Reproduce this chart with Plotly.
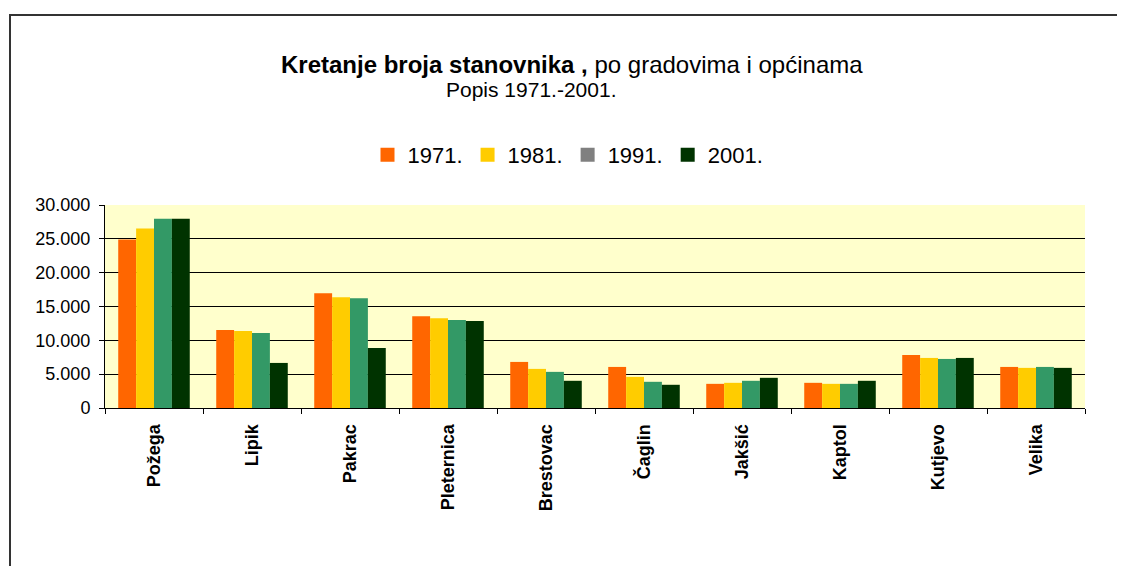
import plotly.graph_objects as go

categories = ["Požega", "Lipik", "Pakrac", "Pleternica", "Brestovac",
              "Čaglin", "Jakšić", "Kaptol", "Kutjevo", "Velika"]
years = ["1971.", "1981.", "1991.", "2001."]
v1971 = [24900, 11520, 16960, 13570, 6810, 6070, 3570, 3720, 7840, 6070]
v1981 = [26520, 11370, 16370, 13280, 5780, 4600, 3720, 3570, 7400, 5930]
v1991 = [27980, 11070, 16220, 12990, 5340, 3870, 4020, 3570, 7250, 6070]
v2001 = [27980, 6660, 8870, 12840, 4020, 3430, 4460, 4020, 7400, 5930]
values = [v1971, v1981, v1991, v2001]
bar_colors = ["#FF6600", "#FFCC00", "#339966", "#003300"]
legend_colors = ["#FF6600", "#FFCC00", "#808080", "#003300"]
y_ticks = [0, 5000, 10000, 15000, 20000, 25000, 30000]

FONT = "Liberation Sans, Arial, sans-serif"

fig = go.Figure()
for i, (yr, vals) in enumerate(zip(years, values)):
    fig.add_trace(go.Bar(x=categories, y=vals, name=yr,
                         marker=dict(color=bar_colors[i], line=dict(width=0)),
                         showlegend=False))
for i, yr in enumerate(years):
    fig.add_trace(go.Scatter(
        x=[None], y=[None], mode="markers", name=yr,
        marker=dict(symbol="square", size=14, color=legend_colors[i],
                    line=dict(width=0)),
        showlegend=True, hoverinfo="skip"))

# page body has an 8px default margin; work in window pixels and convert
OFF = 8
W, H = 1125 - OFF, 566 - OFF
plot_l, plot_r, plot_t, plot_b = 105, 1085, 205, 408  # window pixels
ml, mt = plot_l - OFF, plot_t - OFF
mr = W - (plot_r - OFF)
mb = H - (plot_b - OFF)
pw, ph = plot_r - plot_l, plot_b - plot_t

def px2x(px):
    return (px - plot_l) / pw

def px2y(py):
    return (plot_b - py) / ph

fig.update_layout(
    width=W, height=H,
    margin=dict(l=ml, r=mr, t=mt, b=mb, pad=0),
    paper_bgcolor="white",
    plot_bgcolor="#FFFFCC",
    barmode="group",
    bargap=0.27,
    bargroupgap=0,
    separators=",.",
    font=dict(family=FONT, color="black"),
    showlegend=True,
    legend=dict(orientation="h", x=px2x(568), y=px2y(155), xanchor="center",
                yanchor="middle", font=dict(size=22, family=FONT, color="black"),
                itemwidth=30, traceorder="normal", bgcolor="rgba(0,0,0,0)",
                tracegroupgap=0),
    xaxis=dict(type="category", categoryorder="array", categoryarray=categories,
               showline=True, linecolor="black", linewidth=1,
               ticks="outside", ticklen=5, tickcolor="black", tickson="boundaries",
               tickangle=-90, ticklabelstandoff=8,
               tickfont=dict(size=18, family=FONT, color="black", weight="bold"),
               showgrid=False, zeroline=False, fixedrange=True),
    yaxis=dict(range=[0, 30000], tickvals=y_ticks, tickformat=",d",
               showline=True, linecolor="black", linewidth=1,
               ticks="outside", ticklen=5, tickcolor="black",
               ticklabelstandoff=5,
               showgrid=True, gridcolor="black", gridwidth=1,
               zeroline=False,
               tickfont=dict(size=18, family=FONT, color="black")),
)

fig.add_annotation(
    text="<b>Kretanje broja stanovnika ,</b> po gradovima i općinama",
    xref="paper", yref="paper", x=px2x(572), y=px2y(64),
    xanchor="center", yanchor="middle", showarrow=False,
    font=dict(size=24, family=FONT, color="black"))
fig.add_annotation(
    text="Popis 1971.-2001.",
    xref="paper", yref="paper", x=px2x(531), y=px2y(90),
    xanchor="center", yanchor="middle", showarrow=False,
    font=dict(size=21, family=FONT, color="black"))

# outer chart frame (left and top edges visible)
fig.add_shape(type="line", xref="paper", yref="paper",
              x0=px2x(10), x1=px2x(10), y0=px2y(15), y1=px2y(590),
              line=dict(color="#333333", width=2))
fig.add_shape(type="line", xref="paper", yref="paper",
              x0=px2x(9), x1=px2x(1150), y0=px2y(15), y1=px2y(15),
              line=dict(color="#333333", width=2))

fig.write_html("out.html")
